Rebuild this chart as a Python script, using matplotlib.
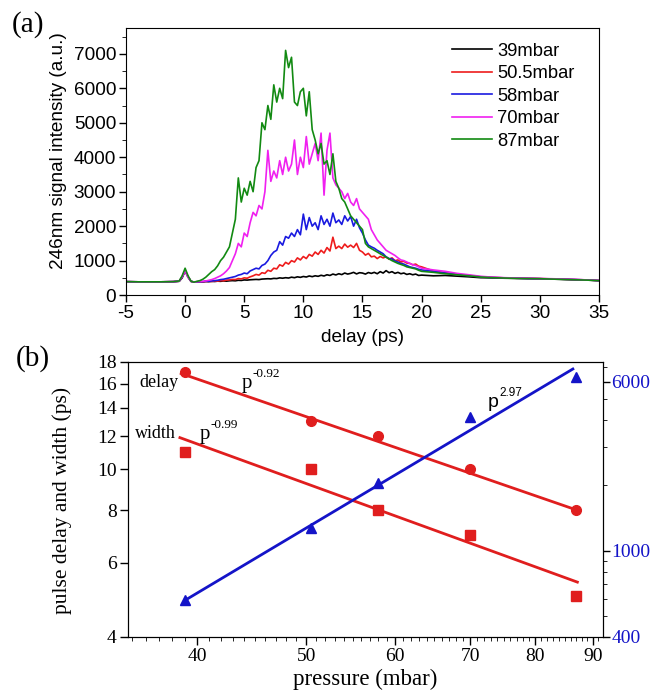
import numpy as np
import matplotlib
matplotlib.use("Agg")
import matplotlib.pyplot as plt
from matplotlib.ticker import FixedLocator, FixedFormatter, NullFormatter, MultipleLocator

plt.rcParams['axes.unicode_minus'] = False

# ---------------- (a) delay scans ----------------
# sample times: sparse before zero, fine 1..20 ps, sparse tail
t_pre = [-5, -4, -3, -2, -1, -0.5, -0.25, 0, 0.25, 0.5, 0.75]
t_mid = list(np.arange(1.0, 20.01, 0.25))
t_post = [21, 22, 23, 24, 25, 26, 27, 28, 29, 30, 31, 32, 33, 34, 35]
delay = np.array(t_pre + t_mid + t_post)

labels = ["39mbar", "50.5mbar", "58mbar", "70mbar", "87mbar"]
colors = ["black", "#ee1c1c", "#1a1ae0", "#f020f0", "#128a12"]

pre_39 = [390, 385, 385, 385, 390, 400, 500, 700, 520, 400, 380]
pre_50 = [390, 385, 385, 385, 390, 405, 520, 710, 530, 400, 378]
pre_58 = [390, 385, 385, 385, 390, 405, 520, 720, 530, 400, 378]
pre_70 = [390, 385, 385, 385, 390, 405, 530, 700, 520, 395, 375]
pre_87 = [390, 385, 385, 385, 390, 410, 560, 780, 560, 400, 375]

mid_39 = [385, 390, 385, 395, 390, 400, 395, 405, 400, 410, 405, 415,
          420, 415, 430, 425, 440, 435, 445, 450, 455, 450, 465, 470,
          475, 470, 485, 480, 500, 490, 505, 495, 520, 505, 530, 515,
          540, 525, 555, 535, 560, 545, 575, 555, 590, 570, 610, 585,
          620, 595, 640, 610, 630, 660, 615, 650, 640, 610, 655, 630,
          660, 620, 680, 640, 710, 650, 680, 630, 660, 620, 640, 600,
          620, 590, 610, 570, 580]
mid_50 = [385, 390, 385, 395, 400, 395, 410, 405, 420, 415, 435, 440,
          455, 450, 480, 470, 500, 490, 530, 560, 600, 580, 650, 630,
          720, 690, 780, 760, 880, 840, 950, 900, 1000, 960, 1080, 1020,
          1120, 1060, 1180, 1130, 1250, 1180, 1300, 1220, 1380, 1280, 1680, 1350,
          1420, 1350, 1480, 1390, 1450, 1380, 1500, 1300, 1250, 1160, 1210, 1110,
          1130, 1060, 1120, 1080, 1110, 1040, 1080, 1000, 1020, 960, 980, 930,
          920, 880, 900, 840, 820]
mid_58 = [385, 390, 390, 400, 400, 410, 420, 430, 450, 460, 480, 500,
          520, 540, 580, 600, 640, 620, 700, 740, 780, 760, 860, 900,
          1000, 1150, 1250, 1300, 1550, 1450, 1700, 1650, 1800, 1700, 1900, 1750,
          2350, 1900, 2250, 2000, 2100, 1900, 2300, 2050, 2200, 2000, 2380, 2100,
          2180, 2050, 2300, 2150, 2280, 2000, 2200, 1950, 1800, 1600, 1450, 1400,
          1360, 1300, 1250, 1200, 1110, 1060, 1050, 990, 960, 920, 900, 860,
          820, 800, 780, 750, 730]
mid_70 = [390, 395, 400, 410, 430, 450, 480, 520, 560, 620, 700, 800,
          1000, 1200, 1500, 1400, 1800, 1700, 2100, 2400, 2300, 2600, 2500, 3000,
          4200, 3300, 3600, 3400, 3900, 3500, 4000, 3600, 3800, 4500, 3500, 4000,
          3700, 4600, 3800, 4100, 4400, 3900, 4700, 2900, 4200, 4700, 3400, 3200,
          3100, 3000, 2800, 2950, 2700, 2600, 2800, 2500, 2400, 2300, 2200, 1900,
          1750, 1600, 1500, 1400, 1300, 1250, 1200, 1150, 1080, 1020, 1000, 960,
          920, 880, 860, 820, 780]
mid_87 = [400, 420, 460, 520, 600, 680, 740, 850, 1000, 1100, 1250, 1400,
          1800, 2200, 3400, 2700, 3100, 2900, 3300, 3000, 3700, 3900, 5000, 4800,
          5500, 5100, 6100, 5600, 6000, 5700, 7100, 6600, 6900, 5600, 5500, 5900,
          6000, 5200, 5900, 4800, 4500, 4100, 4400, 3800, 3900, 3500, 4100, 3300,
          3100, 2800, 2700, 2500, 2300, 2200, 2100, 2000, 1900, 1500, 1400, 1350,
          1300, 1250, 1200, 1150, 1100, 1050, 1000, 960, 920, 890, 860, 820,
          800, 780, 760, 720, 690]

post_39 = [560, 570, 550, 530, 505, 500, 490, 485, 480, 475, 465, 455, 445, 435, 420]
post_50 = [700, 650, 600, 570, 530, 515, 500, 490, 485, 480, 470, 460, 450, 440, 420]
post_58 = [690, 640, 600, 565, 530, 510, 500, 490, 480, 475, 470, 460, 450, 440, 420]
post_70 = [730, 690, 630, 590, 545, 520, 505, 495, 490, 480, 475, 465, 455, 440, 425]
post_87 = [660, 620, 590, 560, 525, 505, 495, 485, 480, 475, 465, 455, 445, 435, 420]

signals = [pre_39 + mid_39 + post_39,
           pre_50 + mid_50 + post_50,
           pre_58 + mid_58 + post_58,
           pre_70 + mid_70 + post_70,
           pre_87 + mid_87 + post_87]

# ---------------- (b) pressure dependence ----------------
pressure = [39, 50.5, 58, 70, 87]
delay_ps = [17.0, 13.0, 12.0, 10.0, 8.0]
width_ps = [11.0, 10.0, 8.0, 7.0, 5.0]
intensity = [590, 1270, 2050, 4130, 6300]

# fitted power-law lines (end points)
fit_delay_x = [38.7, 87.2]
fit_delay_y = [16.9, 8.0]
fit_width_x = [38.6, 87.2]
fit_width_y = [11.9, 5.4]
fit_int_x = [39.0, 86.4]
fit_int_y = [590, 6870]

sans = "Liberation Sans"
serif = "Liberation Serif"


def power_label(ax, x, y, exp, family, size, sup_size, dx, dy):
    # "p" with a superscript exponent drawn as a second text
    ax.text(x, y, "p", fontsize=size, family=family, va='center')
    ax.annotate(exp, (x, y), xytext=(dx, dy), textcoords='offset points',
                fontsize=sup_size, family=family, va='center')


fig = plt.figure(figsize=(6.61, 6.96), dpi=100)

ax1 = fig.add_axes([0.1906, 0.576, 0.7155, 0.3838])
for sig, lab, col in zip(signals, labels, colors):
    ax1.plot(delay, sig, color=col, lw=1.2, label=lab)
ax1.set_xlim(-5, 35)
ax1.set_ylim(0, 7750)
ax1.xaxis.set_major_locator(MultipleLocator(5))
ax1.yaxis.set_major_locator(MultipleLocator(1000))
ax1.yaxis.set_minor_locator(MultipleLocator(500))
ax1.tick_params(direction='out', top=False, right=False, labelsize=13.7,
                length=5, width=1, pad=2)
ax1.tick_params(which='minor', length=3, right=False, top=False)
for lab in ax1.get_xticklabels() + ax1.get_yticklabels():
    lab.set_fontfamily(sans)
ax1.set_xlabel("delay (ps)", fontsize=13.7, family=sans, labelpad=5)
ax1.set_ylabel("246nm signal intensity (a.u.)", fontsize=13.7, family=sans)
ax1.yaxis.set_label_coords(-0.125, 0.54)
leg = ax1.legend(loc='upper left', bbox_to_anchor=(0.69, 0.945), frameon=False,
                 prop={'family': sans, 'size': 13.2}, labelspacing=0.3,
                 handlelength=2.17, handletextpad=0.28, borderpad=0, borderaxespad=0)
fig.text(0.043, 0.965, "(a)", fontsize=21, family=serif, ha='center', va='center')

# bottom panel
red = "#e01e1e"
blue = "#1414c8"
ax2 = fig.add_axes([0.1936, 0.0848, 0.7186, 0.3951])
ax2.set_xscale('log')
ax2.set_yscale('log')
ax2.plot(fit_delay_x, fit_delay_y, color=red, lw=2)
ax2.plot(fit_width_x, fit_width_y, color=red, lw=2)
ax2.plot(pressure, delay_ps, 'o', color=red, ms=7)
ax2.plot(pressure, width_ps, 's', color=red, ms=6.5)
ax2.set_xlim(34.7, 91.9)
ax2.set_ylim(4, 18)
ax2.xaxis.set_major_locator(FixedLocator([40, 50, 60, 70, 80, 90]))
ax2.xaxis.set_minor_locator(FixedLocator(list(range(35, 92))))
ax2.xaxis.set_major_formatter(FixedFormatter(["40", "50", "60", "70", "80", "90"]))
ax2.xaxis.set_minor_formatter(NullFormatter())
ax2.yaxis.set_major_locator(FixedLocator([4, 6, 8, 10, 12, 14, 16, 18]))
ax2.yaxis.set_major_formatter(FixedFormatter(["4", "6", "8", "10", "12", "14", "16", "18"]))
ax2.yaxis.set_minor_locator(FixedLocator([]))
ax2.tick_params(direction='out', top=False, right=False, labelsize=14,
                length=6, width=1, pad=2)
ax2.tick_params(which='minor', length=3, top=False)
for lab in ax2.get_xticklabels() + ax2.get_yticklabels():
    lab.set_fontfamily(serif)
ax2.set_xlabel("pressure (mbar)", fontsize=16.5, family=serif, labelpad=3)
ax2.set_ylabel("pulse delay and width (ps)", fontsize=15.5, family=serif)
ax2.yaxis.set_label_coords(-0.118, 0.495)

ax3 = ax2.twinx()
ax3.set_yscale('log')
ax3.plot(fit_int_x, fit_int_y, color=blue, lw=2)
ax3.plot(pressure, intensity, '^', color=blue, ms=6.5)
ax3.set_ylim(400, 7400)
ax3.yaxis.set_major_locator(FixedLocator([400, 1000, 6000]))
ax3.yaxis.set_major_formatter(FixedFormatter(["400", "1000", "6000"]))
ax3.yaxis.set_minor_locator(FixedLocator([500, 600, 700, 800, 900, 2000, 3000, 4000, 5000, 7000]))
ax3.yaxis.set_minor_formatter(NullFormatter())
ax3.tick_params(direction='out', labelsize=14, labelcolor=blue, length=5, width=1, pad=1)
ax3.tick_params(which='minor', length=3)
for lab in ax3.get_yticklabels():
    lab.set_fontfamily(serif)

ax2.text(35.5, 16.1, "delay", fontsize=13, family=serif, va='center')
power_label(ax2, 43.8, 16.0, "-0.92", serif, 15, 9.5, 8, 7)
ax2.text(35.2, 12.2, "width", fontsize=13, family=serif, va='center')
power_label(ax2, 40.2, 12.1, "-0.99", serif, 15, 9.5, 8, 7)
power_label(ax2, 72.6, 14.4, "2.97", sans, 14, 8.5, 8, 7)

fig.text(0.05, 0.485, "(b)", fontsize=21, family=serif, ha='center', va='center')

fig.savefig("out.png", dpi=100)
